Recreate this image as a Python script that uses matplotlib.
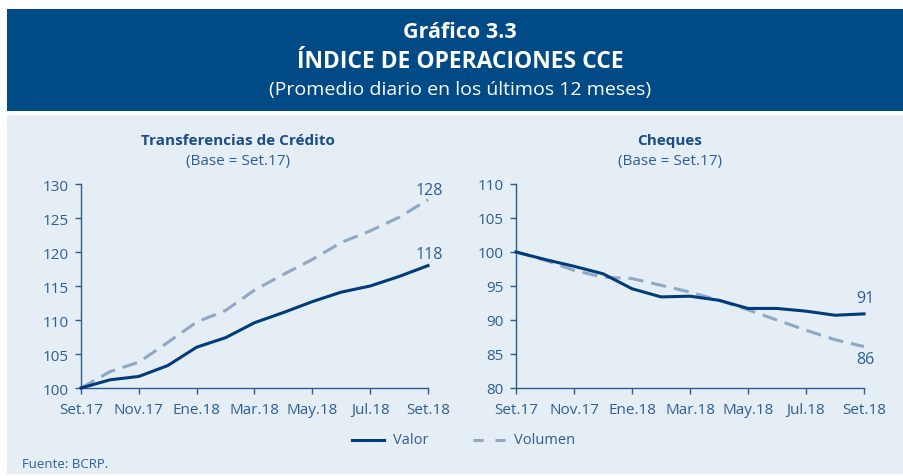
import matplotlib
matplotlib.use("Agg")
import matplotlib.pyplot as plt
from matplotlib.patches import Rectangle
from matplotlib.lines import Line2D

plt.rcParams['font.family'] = ['Open Sans', 'DejaVu Sans']

months = ["Set.17", "Oct.17", "Nov.17", "Dic.17", "Ene.18", "Feb.18", "Mar.18",
          "Abr.18", "May.18", "Jun.18", "Jul.18", "Ago.18", "Set.18"]
tick_labels = ["Set.17", "Nov.17", "Ene.18", "Mar.18", "May.18", "Jul.18", "Set.18"]

tc_valor = [100, 101.2, 101.7, 103.3, 106.0, 107.4, 109.6, 111.1, 112.7, 114.1, 115.0, 116.4, 118.0]
tc_volumen = [100, 102.4, 103.8, 106.7, 109.7, 111.4, 114.4, 116.7, 118.9, 121.4, 123.1, 125.1, 127.7]

ch_valor = [100, 98.9, 97.9, 96.8, 94.6, 93.4, 93.5, 92.9, 91.7, 91.7, 91.3, 90.7, 90.9]
ch_volumen = [100, 98.8, 97.3, 96.3, 96.1, 95.1, 94.1, 92.9, 91.5, 90.0, 88.5, 87.1, 86.1]

W, H = 904, 477
BANNER = "#004A85"
PANEL = "#E5EDF5"
NAVY = "#003B7A"
LIGHT = "#8DA9C6"
TXT = "#2D5E93"
TITLE = "#1C4C84"

fig = plt.figure(figsize=(W / 100, H / 100), dpi=100)
fig.patch.set_facecolor("white")

def fx(px):
    return px / W

def fy(py):
    return 1 - py / H

fig.patches.append(Rectangle((fx(7), fy(112)), fx(904) - fx(7), (112 - 10) / H,
                             transform=fig.transFigure, facecolor=BANNER, edgecolor="none", zorder=0))
fig.patches.append(Rectangle((fx(7), fy(475)), fx(904) - fx(7), (475 - 116) / H,
                             transform=fig.transFigure, facecolor=PANEL, edgecolor="none", zorder=0))

fig.text(fx(460), fy(33), "Gráfico 3.3", color="white", fontsize=15.5, fontweight="bold",
         ha="center", va="center")
fig.text(fx(460), fy(62), "ÍNDICE DE OPERACIONES CCE", color="white", fontsize=16.5, fontweight="bold",
         ha="center", va="center")
fig.text(fx(460), fy(90), "(Promedio diario en los últimos 12 meses)", color="white", fontsize=14,
         ha="center", va="center")

def make_ax(x0, x1, ylim, yticks, valor, volumen, title, tcx, lab_valor, lab_vol, off_valor, off_vol):
    ax = fig.add_axes([fx(x0), fy(389), fx(x1) - fx(x0), (389 - 185) / H])
    ax.set_zorder(5)
    ax.set_facecolor("none")
    ax.patch.set_alpha(0)
    x = list(range(len(months)))
    ax.plot(x, volumen, color=LIGHT, lw=2.2, dashes=(5, 2.6), zorder=2, clip_on=False)
    ax.plot(x, valor, color=NAVY, lw=2.2, zorder=3, clip_on=False)
    ax.set_xlim(0, len(months) - 1)
    ax.set_ylim(*ylim)
    ax.set_yticks(yticks)
    ax.set_xticks(x[::2])
    ax.set_xticklabels(tick_labels)
    for s in ["top", "right"]:
        ax.spines[s].set_visible(False)
    for s in ["left", "bottom"]:
        ax.spines[s].set_color(TXT)
        ax.spines[s].set_linewidth(1)
    ax.tick_params(axis="both", colors=TXT, labelcolor=TXT, labelsize=11, length=4, width=1,
                   direction="out")
    ax.tick_params(axis="x", pad=6)
    ax.tick_params(axis="y", pad=5)
    ax.annotate(lab_valor, (x[-1], valor[-1]), xytext=(1, off_valor), textcoords="offset pixels",
                ha="center", va="center", color=TXT, fontsize=11.5)
    ax.annotate(lab_vol, (x[-1], volumen[-1]), xytext=(1, off_vol), textcoords="offset pixels",
                ha="center", va="center", color=TXT, fontsize=11.5)
    fig.text(fx(tcx), fy(141), title, color=TITLE, fontsize=11, fontweight="bold",
             ha="center", va="center")
    fig.text(fx(tcx), fy(161), "(Base = Set.17)", color=TXT, fontsize=11,
             ha="center", va="center")
    return ax

make_ax(81, 428, (100, 130), range(100, 131, 5), tc_valor, tc_volumen,
        "Transferencias de Crédito", 238, "118", "128", 12, 10)
make_ax(516, 864, (80, 110), range(80, 111, 5), ch_valor, ch_volumen,
        "Cheques", 670, "91", "86", 16, -12)

# legend
fig.add_artist(Line2D([fx(352), fx(384)], [fy(441), fy(441)], color=NAVY, lw=2.2,
                      transform=fig.transFigure, zorder=5))
fig.text(fx(393), fy(441), "Valor", color=TXT, fontsize=10.5, ha="left", va="center")
fig.add_artist(Line2D([fx(473), fx(505)], [fy(441), fy(441)], color=LIGHT, lw=2.2,
                      dashes=(3.3, 3.9), transform=fig.transFigure, zorder=5))
fig.text(fx(514), fy(441), "Volumen", color=TXT, fontsize=10.5, ha="left", va="center")

fig.text(fx(22), fy(465), "Fuente: BCRP.", color=TXT, fontsize=9.5, ha="left", va="center")

fig.savefig("out.png", dpi=100, facecolor=fig.get_facecolor())
